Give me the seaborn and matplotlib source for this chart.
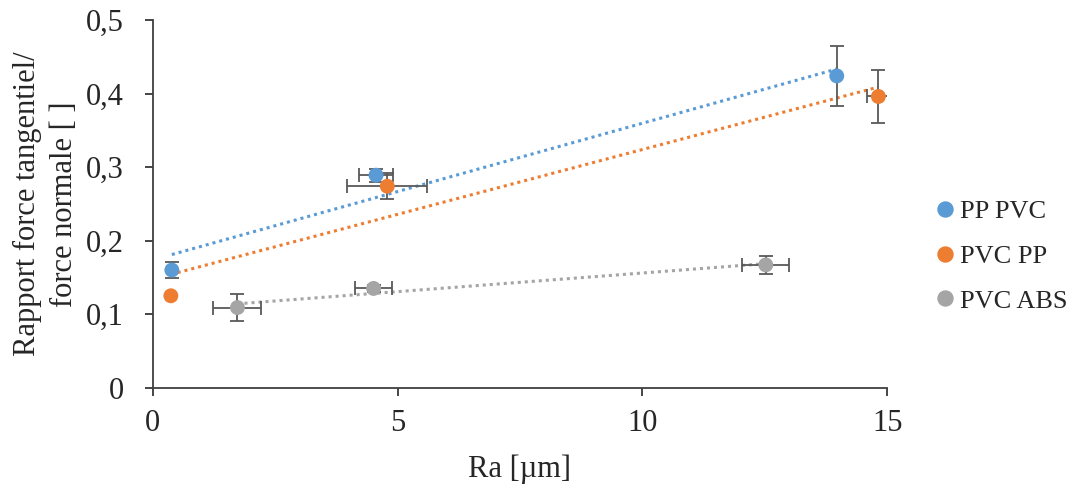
import numpy as np
import pandas as pd
import matplotlib
matplotlib.use("Agg")
import matplotlib.pyplot as plt
import seaborn as sns

series = ["PP PVC", "PVC PP", "PVC ABS"]
colors = ["#5B9BD5", "#ED7D31", "#A5A5A5"]

pp_pvc_x = [0.39, 4.56, 13.97]
pp_pvc_y = [0.160, 0.289, 0.424]
pp_pvc_xerr = [0.0, 0.34, 0.0]
pp_pvc_yerr = [0.011, 0.009, 0.041]

pvc_pp_x = [0.37, 4.79, 14.82]
pvc_pp_y = [0.125, 0.274, 0.396]
pvc_pp_xerr = [0.0, 0.82, 0.23]
pvc_pp_yerr = [0.0, 0.018, 0.036]

pvc_abs_x = [1.73, 4.51, 12.52]
pvc_abs_y = [0.109, 0.135, 0.167]
pvc_abs_xerr = [0.49, 0.38, 0.48]
pvc_abs_yerr = [0.018, 0.005, 0.0125]

xticks = [0, 5, 10, 15]
yticks = [0, 0.1, 0.2, 0.3, 0.4, 0.5]
ytick_labels = ["0", "0,1", "0,2", "0,3", "0,4", "0,5"]

sns.set_theme(style="white")
plt.rcParams["font.family"] = ["Liberation Serif", "DejaVu Serif"]

fig = plt.figure(figsize=(10.78, 4.88), dpi=100)
ax = fig.add_axes([0.1417, 0.2055, 0.6813, 0.7535])

data = [
    (pp_pvc_x, pp_pvc_y, pp_pvc_xerr, pp_pvc_yerr),
    (pvc_pp_x, pvc_pp_y, pvc_pp_xerr, pvc_pp_yerr),
    (pvc_abs_x, pvc_abs_y, pvc_abs_xerr, pvc_abs_yerr),
]

frames = []
for name, (x, y, xe, ye) in zip(series, data):
    frames.append(pd.DataFrame({"x": x, "y": y, "xe": xe, "ye": ye, "s": name}))
df = pd.concat(frames, ignore_index=True)

for name, col in zip(series, colors):
    sub = df[df.s == name]
    sns.regplot(data=sub, x="x", y="y", scatter=False, ci=None, truncate=True,
                ax=ax, line_kws=dict(color=col, linestyle=(0, (1, 1.3)), lw=2.2,
                                     zorder=2))

ekw = dict(fmt="none", ecolor="#595959", elinewidth=1.3, capsize=5, capthick=1.3,
           zorder=2.5)
xs = df[df.xe > 0]
ax.errorbar(xs.x, xs.y, xerr=xs.xe, **ekw)
ys = df[df.ye > 0]
ax.errorbar(ys.x, ys.y, yerr=ys.ye, **ekw)

sns.scatterplot(data=df, x="x", y="y", hue="s", palette=colors, s=115,
                edgecolor="none", ax=ax, zorder=3, legend=False)

ax.set_xlim(0, 15)
ax.set_ylim(0, 0.5)
ax.set_xticks(xticks)
ax.set_xticklabels([str(t) for t in xticks])
ax.set_yticks(yticks)
ax.set_yticklabels(ytick_labels)
ax.tick_params(axis="both", labelsize=22, colors="#262626", length=6, width=1.2,
               direction="out", bottom=True, left=True)
ax.tick_params(axis="y", pad=15)
ax.tick_params(axis="x", pad=9)
for sp in ["top", "right"]:
    ax.spines[sp].set_visible(False)
for sp in ["left", "bottom"]:
    ax.spines[sp].set_color("#404040")
    ax.spines[sp].set_linewidth(1.3)

ax.set_xlabel("Ra [µm]", fontsize=22, color="#262626", labelpad=12)
ax.set_ylabel("Rapport force tangentiel/\nforce normale [ ]", fontsize=22,
              color="#262626", labelpad=5, linespacing=1.35)

handles = [plt.Line2D([], [], marker="o", linestyle="none", color=c,
                      markersize=10.8) for c in colors]
leg = fig.legend(handles, series, loc="center left", bbox_to_anchor=(0.862, 0.475),
                 frameon=False, fontsize=19, handletextpad=-0.05, labelspacing=0.8,
                 handlelength=1.2, borderpad=0, borderaxespad=0)
for t in leg.get_texts():
    t.set_color("#262626")

fig.savefig("out.png", dpi=100)
